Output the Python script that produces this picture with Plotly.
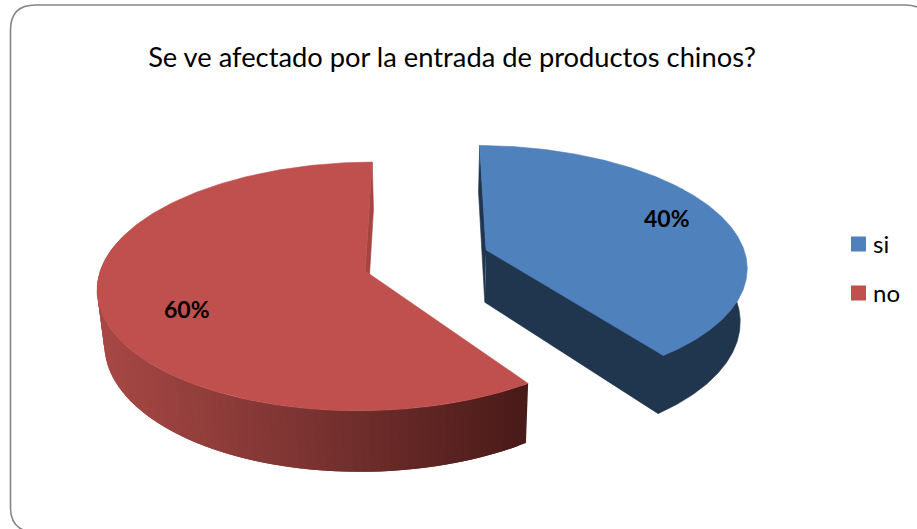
import numpy as np
import plotly.graph_objects as go

# Chart data
categories = ["si", "no"]
shares = [40, 60]
top_colors = ["#4F81BD", "#BF504D"]
title_text = "Se ve afectado por la entrada de productos chinos?"

W, H = 917, 529

# Projection of the tilted pie onto the page (perspective towards a far horizon)
VX, VY = 428.0, -700.0      # vanishing point for lines running straight back
FOCAL = 2115.0              # horizontal scale
DIST = 8.0                  # viewer distance, in pie radii
TOP_H = 7683.0              # height of viewer above the top face
DEPTH_RATIO = 1.055         # bottom face relative to top face
BOTTOM_NARROW = 0.978       # horizontal narrowing of the bottom face
BLUE_OFFSET = (0.222, 0.0875)
RED_OFFSET = (-0.235, -0.0875)


def project(u, v, bottom=False):
    u, v = np.asarray(u, float), np.asarray(v, float)
    d = DIST + v
    k = BOTTOM_NARROW if bottom else 1.0
    h = TOP_H * (DEPTH_RATIO if bottom else 1.0)
    return VX + k * FOCAL * u / d, VY + h / d


def lerp_color(stops, t):
    pos = [s[0] for s in stops]
    rgb = [np.interp(t, pos, [s[1][i] for s in stops]) for i in range(3)]
    return "rgb(%d,%d,%d)" % tuple(int(round(c)) for c in rgb)


def poly(fig, xs, ys, color, edge=0.6):
    fig.add_trace(go.Scatter(
        x=list(xs), y=list(ys), mode="lines", fill="toself", fillcolor=color,
        line=dict(color=color, width=edge), hoverinfo="skip", showlegend=False))


fig = go.Figure()

# Slice angles, clockwise from the back of the pie
total = sum(shares)
spans = [s / total * 360 for s in shares]
t = np.linspace(0, 1, 240)

# Blue slice: rim bulges slightly towards the viewer
SIDE_BLUE = "#20354E"
ou, ov = BLUE_OFFSET
bulge = np.sin(np.pi * t)
th = np.radians(spans[0] * t + 6.0 * bulge)
rad = 1 - 0.014 * bulge
u, v = ou + rad * np.sin(th), ov + rad * np.cos(th)
xt, yt = project(u, v)
xb, yb = project(u, v, bottom=True)
ax_t, ay_t = project(ou, ov)
ax_b, ay_b = project(ou, ov, bottom=True)
poly(fig, [ax_t, xt[0], xb[0], ax_b], [ay_t, yt[0], yb[0], ay_b], SIDE_BLUE)
# Front faces as one outline, so no seam shows at the tip
front = t > 0.35
xf, yf = xb[front][::-1], yb[front][::-1]
poly(fig, [ax_b, *xf, xt[front][0], ax_t], [ay_b, *yf, yt[front][0], ay_t], SIDE_BLUE)
poly(fig, [ax_t, *xt, ax_t], [ay_t, *yt, ay_t], top_colors[0])

# Red slice: sliver of the cut face, shaded rim strips, lit face
ou, ov = RED_OFFSET
th = np.radians(spans[0] + spans[1] * t + 1.2 * (1 - t) ** 3)
rad = 1 - 0.009 * np.sin(np.pi * t)
u, v = ou + rad * np.sin(th), ov + rad * np.cos(th)
xt, yt = project(u, v)
xb, yb = project(u, v, bottom=True)
ax_t, ay_t = project(ou, ov)
ax_b, ay_b = project(ou, ov, bottom=True)
poly(fig, [ax_t, xt[-1], xb[-1], ax_b], [ay_t, yt[-1], yb[-1], ay_b], "#A64441")

rim_stops = [(98, (168, 72, 69)), (300, (124, 52, 50)), (530, (72, 26, 24))]
last = int(np.argmax(v > 0.25 + ov))
step = 2
for i in range(0, last, step):
    j = min(i + 2 * step, len(t) - 1)
    shade = lerp_color(rim_stops, xt[i + step // 2])
    seg = np.arange(i, j + 1)
    poly(fig, np.r_[xt[seg], xb[seg][::-1]], np.r_[yt[seg], yb[seg][::-1]], shade, edge=0)
poly(fig, [ax_t, *xt, ax_t], [ay_t, *yt, ay_t], top_colors[1])

# Legend keys
legend_rows = [244.5, 293.5]
fig.add_trace(go.Scatter(
    x=[858.5, 858.5], y=[row - 0.5 for row in legend_rows], mode="markers",
    hoverinfo="skip", showlegend=False,
    marker=dict(symbol="square", size=15, color=top_colors, line=dict(width=0))))

# Rounded chart frame; it runs off the right and bottom of the page
L, T, R, B, r = 10.5, 5.0, 930.0, 532.0, 25.0
frame = (f"M {L} {T + r} Q {L} {T} {L + r} {T} L {R - r} {T} Q {R} {T} {R} {T + r} "
         f"L {R} {B - r} Q {R} {B} {R - r} {B} L {L + r} {B} Q {L} {B} {L} {B - r} Z")

# Percentage labels, read straight from the shares
label_spots = [(667, 218), (187, 309)]
annotations = [
    dict(x=x, y=y, text=f"<b>{s}%</b>", showarrow=False,
         font=dict(family="Lato", size=23, color="#000000"))
    for (x, y), s in zip(label_spots, shares)
]
annotations += [
    dict(x=873, y=row - 1.5, text=name, showarrow=False, xanchor="left", xshift=-2,
         font=dict(family="Lato", size=24, color="#000000"))
    for name, row in zip(categories, legend_rows)
]

fig.update_layout(
    width=W, height=H,
    margin=dict(l=0, r=0, t=0, b=0),
    paper_bgcolor="#FFFFFF", plot_bgcolor="#FFFFFF",
    showlegend=False,
    xaxis=dict(range=[0, W], visible=False, fixedrange=True),
    yaxis=dict(range=[H, 0], visible=False, fixedrange=True),
    title=dict(text=title_text, x=452 / W, xanchor="center",
               y=1 - 57 / H, yanchor="middle",
               font=dict(family="Lato", size=27.3, color="#000000")),
    shapes=[dict(type="path", path=frame, xref="x", yref="y",
                 line=dict(color="#858585", width=1.6), layer="above")],
    annotations=annotations,
)

fig.write_html("out.html", config=dict(displayModeBar=False))
